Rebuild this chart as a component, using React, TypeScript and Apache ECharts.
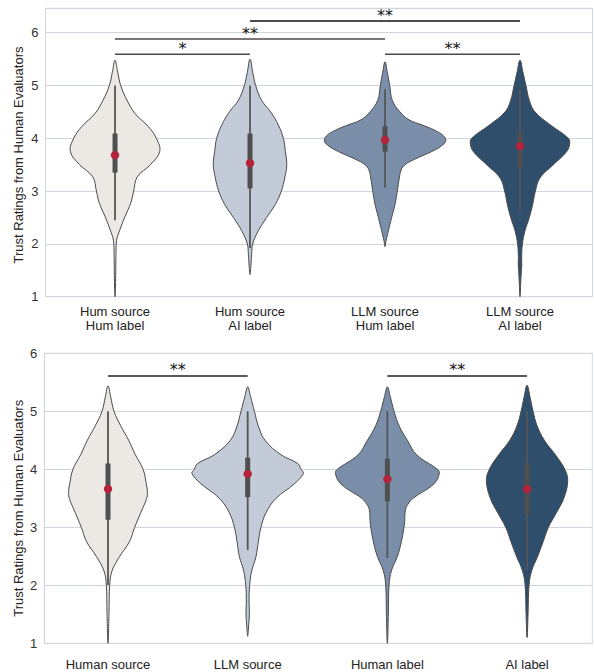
import React, { useEffect, useRef } from "react";
import * as echarts from "echarts";

// ---------- data ----------
const topCategories = [
  "Hum source\nHum label",
  "Hum source\nAI label",
  "LLM source\nHum label",
  "LLM source\nAI label",
];
const bottomCategories = ["Human source", "LLM source", "Human label", "AI label"];
const yTicks = [1, 2, 3, 4, 5, 6];
const violinColors = ["#ece9e4", "#c3cad8", "#7a8eaa", "#2f4e6c"];

// violin density outlines: [rating, half width in category units]
const topProfiles: number[][][] = [
  [[1.0, 0], [1.4, 0.005], [1.8, 0.007], [2.07, 0.012], [2.26, 0.035], [2.52, 0.074], [2.77, 0.116], [3.0, 0.138], [3.27, 0.165], [3.5, 0.262], [3.75, 0.331], [4.0, 0.306], [4.22, 0.247], [4.47, 0.148], [4.72, 0.089], [5.0, 0.042], [5.25, 0.02], [5.48, 0]],
  [[1.42, 0], [1.6, 0.007], [1.8, 0.012], [2.0, 0.02], [2.25, 0.062], [2.5, 0.123], [2.75, 0.188], [3.0, 0.232], [3.25, 0.257], [3.5, 0.272], [3.75, 0.262], [4.0, 0.247], [4.25, 0.21], [4.5, 0.153], [4.72, 0.086], [5.0, 0.042], [5.25, 0.02], [5.5, 0]],
  [[1.95, 0], [2.05, 0.007], [2.25, 0.025], [2.5, 0.049], [2.75, 0.074], [3.0, 0.091], [3.25, 0.106], [3.4, 0.119], [3.5, 0.148], [3.6, 0.217], [3.75, 0.346], [3.85, 0.415], [3.95, 0.449], [4.05, 0.432], [4.15, 0.37], [4.25, 0.277], [4.35, 0.178], [4.5, 0.111], [4.72, 0.054], [5.0, 0.035], [5.25, 0.017], [5.45, 0]],
  [[1.0, 0], [1.25, 0.005], [1.5, 0.01], [1.6, 0.013], [1.75, 0.012], [2.0, 0.018], [2.25, 0.037], [2.5, 0.069], [2.75, 0.094], [3.0, 0.114], [3.25, 0.148], [3.5, 0.247], [3.75, 0.346], [3.9, 0.368], [4.0, 0.358], [4.25, 0.227], [4.5, 0.111], [4.72, 0.069], [5.0, 0.044], [5.25, 0.022], [5.48, 0]],
];
const bottomProfiles: number[][][] = [
  [[1.0, 0], [1.5, 0.007], [2.0, 0.012], [2.25, 0.029], [2.5, 0.084], [2.75, 0.153], [3.0, 0.191], [3.25, 0.234], [3.5, 0.277], [3.6, 0.282], [3.75, 0.274], [4.0, 0.251], [4.25, 0.196], [4.5, 0.148], [4.75, 0.091], [5.0, 0.043], [5.25, 0.019], [5.44, 0]],
  [[1.12, 0], [1.25, 0.005], [1.5, 0.012], [1.75, 0.01], [2.0, 0.014], [2.25, 0.029], [2.5, 0.06], [2.75, 0.076], [3.0, 0.095], [3.25, 0.131], [3.5, 0.203], [3.75, 0.334], [3.93, 0.399], [4.0, 0.382], [4.1, 0.358], [4.25, 0.239], [4.5, 0.124], [4.75, 0.076], [5.0, 0.048], [5.25, 0.021], [5.42, 0]],
  [[1.0, 0], [1.5, 0.007], [2.0, 0.012], [2.25, 0.029], [2.5, 0.072], [2.75, 0.1], [3.0, 0.119], [3.1, 0.124], [3.3, 0.129], [3.4, 0.148], [3.5, 0.184], [3.75, 0.334], [3.93, 0.372], [4.0, 0.358], [4.25, 0.21], [4.5, 0.143], [4.75, 0.084], [5.0, 0.048], [5.25, 0.021], [5.42, 0]],
  [[1.1, 0], [1.5, 0.007], [2.0, 0.014], [2.25, 0.033], [2.5, 0.076], [2.75, 0.115], [3.0, 0.153], [3.25, 0.21], [3.5, 0.263], [3.8, 0.291], [4.0, 0.27], [4.25, 0.203], [4.5, 0.124], [4.75, 0.072], [5.0, 0.043], [5.25, 0.021], [5.45, 0]],
];

// box stats: [lower whisker, Q1, Q3, upper whisker, mean]
const topStats = [
  [2.45, 3.35, 4.09, 5.0, 3.68],
  [1.92, 3.05, 4.09, 5.0, 3.53],
  [3.07, 3.75, 4.23, 4.93, 3.97],
  [2.6, 3.43, 4.09, 4.93, 3.85],
];
const bottomStats = [
  [2.0, 3.13, 4.1, 5.0, 3.66],
  [2.61, 3.52, 4.2, 5.0, 3.92],
  [2.47, 3.45, 4.18, 5.0, 3.83],
  [2.27, 3.22, 4.1, 5.0, 3.66],
];

// significance brackets: [from category, to category, height, label]
const topBrackets: [number, number, number, string][] = [
  [0, 1, 5.59, "*"],
  [0, 2, 5.88, "**"],
  [1, 3, 6.22, "**"],
  [2, 3, 5.59, "**"],
];
const bottomBrackets: [number, number, number, string][] = [
  [0, 1, 5.61, "**"],
  [2, 3, 5.61, "**"],
];

// ---------- chart ----------
const FONT = "'Liberation Sans', Arial, sans-serif";
const GRID_COLOR = "#cfd5e0";
const FRAME_COLOR = "#d3d8e0";

function violinSeries(idx: number, profiles: number[][][], stats: number[][]) {
  return {
    type: "custom",
    xAxisIndex: idx,
    yAxisIndex: idx,
    clip: false,
    data: profiles.map((_, i) => [i, stats[i][4]]),
    renderItem: (params: any, api: any) => {
      const i = params.dataIndex;
      const prof = profiles[i];
      const st = stats[i];
      const right = prof.map(([v, w]) => api.coord([i + w, v]));
      const left = prof
        .slice(1, prof.length - 1)
        .reverse()
        .map(([v, w]) => api.coord([i - w, v]));
      const pts = right.concat(left);
      const lo = api.coord([i, st[0]]);
      const q1 = api.coord([i, st[1]]);
      const q3 = api.coord([i, st[2]]);
      const hi = api.coord([i, st[3]]);
      const mean = api.coord([i, st[4]]);
      return {
        type: "group",
        children: [
          {
            type: "polygon",
            shape: { points: pts, smooth: 0.4 },
            style: { fill: violinColors[i], stroke: "#4a4a4a", lineWidth: 1 },
          },
          {
            type: "line",
            shape: { x1: lo[0], y1: lo[1], x2: hi[0], y2: hi[1] },
            style: { stroke: "#555555", lineWidth: 1.8 },
          },
          {
            type: "line",
            shape: { x1: q1[0], y1: q1[1], x2: q3[0], y2: q3[1] },
            style: { stroke: "#4f4f4f", lineWidth: 5, lineCap: "butt" },
          },
          {
            type: "circle",
            shape: { cx: mean[0], cy: mean[1], r: 4.2 },
            style: { fill: "#b3233a" },
          },
        ],
      };
    },
  };
}

function bracketSeries(idx: number, brackets: [number, number, number, string][], colors: string[]) {
  return {
    type: "custom",
    xAxisIndex: idx,
    yAxisIndex: idx,
    clip: false,
    data: brackets.map((b) => [(b[0] + b[1]) / 2, b[2]]),
    renderItem: (params: any, api: any) => {
      const b = brackets[params.dataIndex];
      const p1 = api.coord([b[0], b[2]]);
      const p2 = api.coord([b[1], b[2]]);
      const mid = api.coord([(b[0] + b[1]) / 2, b[2]]);
      return {
        type: "group",
        children: [
          {
            type: "line",
            shape: { x1: p1[0], y1: p1[1], x2: p2[0], y2: p2[1] },
            style: { stroke: colors[params.dataIndex], lineWidth: 1.5 },
          },
          {
            type: "text",
            x: mid[0],
            y: mid[1] - 6,
            style: {
              text: b[3],
              fill: "#111",
              font: "16px 'DejaVu Sans', sans-serif",
              align: "center",
              verticalAlign: "middle",
            },
          },
        ],
      };
    },
  };
}

function xAxis(idx: number, cats: string[], min: number, max: number, margin: number) {
  return {
    type: "value",
    gridIndex: idx,
    min,
    max,
    splitLine: { show: false },
    axisTick: { show: false },
    axisLine: { show: true, onZero: false, lineStyle: { color: FRAME_COLOR, width: 1 } },
    axisLabel: {
      customValues: [0, 1, 2, 3],
      formatter: (v: number) => cats[Math.round(v)] ?? "",
      color: "#222",
      fontSize: 13,
      lineHeight: 14,
      fontFamily: FONT,
      margin,
    },
  };
}

function yAxis(idx: number, max: number, nameGap: number, padding: number[]) {
  return {
    type: "value",
    gridIndex: idx,
    min: 1,
    max,
    interval: 1,
    name: "Trust Ratings from Human Evaluators",
    nameLocation: "middle",
    nameRotate: 90,
    nameGap,
    nameMoveOverlap: false,
    nameTextStyle: { color: "#222", fontSize: 13, fontFamily: FONT, padding },
    axisLine: { show: true, onZero: false, lineStyle: { color: FRAME_COLOR, width: 1 } },
    axisTick: { show: false },
    splitLine: { show: true, lineStyle: { color: GRID_COLOR, width: 1 } },
    axisLabel: {
      color: "#333",
      fontSize: 13,
      fontFamily: FONT,
      margin: 7,
      showMaxLabel: max === 6,
      formatter: (v: number) => (yTicks.includes(v) ? String(v) : ""),
    },
  };
}

export default function App() {
  const ref = useRef<HTMLDivElement>(null);
  useEffect(() => {
    if (!ref.current) return;
    const chart = echarts.init(ref.current, undefined, { renderer: "svg" });
    chart.setOption({
      animation: false,
      backgroundColor: "#ffffff",
      grid: [
        { left: 45.5, top: 8.3, width: 547, height: 288.4, show: true, borderColor: FRAME_COLOR, borderWidth: 1, backgroundColor: "transparent" },
        { left: 44.3, top: 353.3, width: 548, height: 290, show: true, borderColor: FRAME_COLOR, borderWidth: 1, backgroundColor: "transparent" },
      ],
      xAxis: [
        xAxis(0, topCategories, -0.515, 3.537, 8),
        xAxis(1, bottomCategories, -0.456, 3.467, 14),
      ],
      yAxis: [yAxis(0, 6.462, 21, [0, 5, 0, 0]), yAxis(1, 6, 19, [0, 20, 0, 0])],
      series: [
        violinSeries(0, topProfiles, topStats),
        violinSeries(1, bottomProfiles, bottomStats),
        bracketSeries(0, topBrackets, ["#4a4a4a", "#4a4a4a", "#111111", "#4a4a4a"]),
        bracketSeries(1, bottomBrackets, ["#222222", "#222222"]),
      ],
    });
    return () => chart.dispose();
  }, []);
  return (
    <div
      ref={ref}
      style={{ position: "fixed", left: 0, top: 0, width: 594, height: 672, background: "#fff" }}
    />
  );
}
